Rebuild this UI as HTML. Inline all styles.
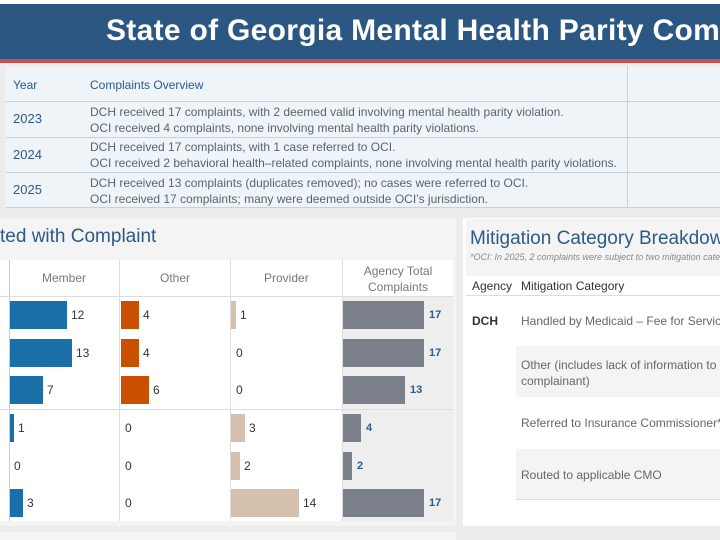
<!DOCTYPE html><html><head><style>
*{margin:0;padding:0;box-sizing:border-box}
html,body{width:720px;height:540px;overflow:hidden}
body{background:#ececec;font-family:"Liberation Sans",sans-serif}
#w{position:relative;width:720px;height:540px;overflow:hidden}
.a{position:absolute;white-space:nowrap}
.t{font-size:12px;color:#5a6470}
.bar{position:absolute;height:28px}
.lab{position:absolute;font-size:12px;color:#333}
.ag{position:absolute;font-size:11px;color:#2d5a87;font-weight:bold}
</style></head><body><div id="w">
<div class="a" style="left:0;top:0;width:720px;height:4px;background:#fff"></div>
<div class="a" style="left:0;top:4px;width:720px;height:55px;background:#2b5782"></div>
<div class="a" style="left:0;top:59px;width:720px;height:4px;background:#c8504f"></div>
<div class="a" style="left:106px;top:14px;font-size:30px;font-weight:bold;color:#fff;letter-spacing:0.3px">State of Georgia Mental Health Parity Compliance</div>
<div class="a" style="left:6px;top:66px;width:714px;height:142px;background:#eef4f8"></div>
<div class="a" style="left:627px;top:66px;width:1px;height:142px;background:#c8d0d8"></div>
<div class="a" style="left:6px;top:101px;width:714px;height:1px;background:#c8d0d8"></div>
<div class="a" style="left:6px;top:137px;width:714px;height:1px;background:#c8d0d8"></div>
<div class="a" style="left:6px;top:172px;width:714px;height:1px;background:#c8d0d8"></div>
<div class="a" style="left:6px;top:207px;width:714px;height:1px;background:#c8d0d8"></div>
<div class="a t" style="left:13px;top:78px;color:#2d5a87">Year</div>
<div class="a t" style="left:90px;top:78px;color:#2d5a87">Complaints Overview</div>
<div class="a t" style="left:13px;top:111px;color:#2d5a87;font-size:13px">2023</div>
<div class="a t" style="left:90px;top:104px;line-height:16px">DCH received 17 complaints, with 2 deemed valid involving mental health parity violation.<br>OCI received 4 complaints, none involving mental health parity violations.</div>
<div class="a t" style="left:13px;top:147px;color:#2d5a87;font-size:13px">2024</div>
<div class="a t" style="left:90px;top:139px;line-height:16px">DCH received 17 complaints, with 1 case referred to OCI.<br>OCI received 2 behavioral health–related complaints, none involving mental health parity violations.</div>
<div class="a t" style="left:13px;top:182px;color:#2d5a87;font-size:13px">2025</div>
<div class="a t" style="left:90px;top:175px;line-height:16px">DCH received 13 complaints (duplicates removed); no cases were referred to OCI.<br>OCI received 17 complaints; many were deemed outside OCI’s jurisdiction.</div>
<div class="a" style="left:0;top:218px;width:456px;height:308px;background:#f4f4f4"></div>
<div class="a" style="left:0;top:226px;font-size:19px;color:#2d5a87">ted with Complaint</div>
<div class="a" style="left:0;top:260px;width:453px;height:261px;background:#fff"></div>
<div class="a" style="left:343px;top:296px;width:110px;height:225px;background:#eeeeee"></div>
<div class="a" style="left:9px;top:260px;width:1px;height:261px;background:#ccc"></div>
<div class="a" style="left:119px;top:260px;width:1px;height:261px;background:#ddd"></div>
<div class="a" style="left:230px;top:260px;width:1px;height:261px;background:#ddd"></div>
<div class="a" style="left:342px;top:260px;width:1px;height:261px;background:#ddd"></div>
<div class="a" style="left:0;top:296px;width:453px;height:1px;background:#ddd"></div>
<div class="a" style="left:0;top:409px;width:453px;height:1px;background:#ddd"></div>
<div class="a" style="left:42px;top:271px;font-size:12px;color:#777">Member</div>
<div class="a" style="left:160px;top:271px;font-size:12px;color:#777">Other</div>
<div class="a" style="left:264px;top:271px;font-size:12px;color:#777">Provider</div>
<div class="a" style="left:343px;top:263px;width:110px;text-align:center;font-size:12px;color:#777;line-height:16px;white-space:normal">Agency Total<br>Complaints</div>
<div class="bar" style="left:10px;top:301px;width:57px;background:#1a6fa8"></div><div class="lab" style="left:71px;top:308px">12</div>
<div class="bar" style="left:10px;top:339px;width:62px;background:#1a6fa8"></div><div class="lab" style="left:76px;top:346px">13</div>
<div class="bar" style="left:10px;top:376px;width:33px;background:#1a6fa8"></div><div class="lab" style="left:47px;top:383px">7</div>
<div class="bar" style="left:10px;top:414px;width:4px;background:#1a6fa8"></div><div class="lab" style="left:18px;top:421px">1</div>
<div class="lab" style="left:14px;top:459px">0</div>
<div class="bar" style="left:10px;top:489px;width:13px;background:#1a6fa8"></div><div class="lab" style="left:27px;top:496px">3</div>
<div class="bar" style="left:121px;top:301px;width:18px;background:#c95000"></div><div class="lab" style="left:143px;top:308px">4</div>
<div class="bar" style="left:121px;top:339px;width:18px;background:#c95000"></div><div class="lab" style="left:143px;top:346px">4</div>
<div class="bar" style="left:121px;top:376px;width:28px;background:#c95000"></div><div class="lab" style="left:153px;top:383px">6</div>
<div class="lab" style="left:125px;top:421px">0</div><div class="lab" style="left:125px;top:459px">0</div><div class="lab" style="left:125px;top:496px">0</div>
<div class="bar" style="left:231px;top:301px;width:5px;background:#d4c0ad"></div><div class="lab" style="left:240px;top:308px">1</div>
<div class="lab" style="left:236px;top:346px">0</div><div class="lab" style="left:236px;top:383px">0</div>
<div class="bar" style="left:231px;top:414px;width:14px;background:#d4c0ad"></div><div class="lab" style="left:249px;top:421px">3</div>
<div class="bar" style="left:231px;top:452px;width:9px;background:#d4c0ad"></div><div class="lab" style="left:244px;top:459px">2</div>
<div class="bar" style="left:231px;top:489px;width:68px;background:#d4c0ad"></div><div class="lab" style="left:303px;top:496px">14</div>
<div class="bar" style="left:343px;top:301px;width:81px;background:#7b808a"></div><div class="ag" style="left:429px;top:309px">17</div>
<div class="bar" style="left:343px;top:339px;width:81px;background:#7b808a"></div><div class="ag" style="left:429px;top:347px">17</div>
<div class="bar" style="left:343px;top:376px;width:62px;background:#7b808a"></div><div class="ag" style="left:410px;top:384px">13</div>
<div class="bar" style="left:343px;top:414px;width:18px;background:#7b808a"></div><div class="ag" style="left:366px;top:422px">4</div>
<div class="bar" style="left:343px;top:452px;width:9px;background:#7b808a"></div><div class="ag" style="left:357px;top:460px">2</div>
<div class="bar" style="left:343px;top:489px;width:81px;background:#7b808a"></div><div class="ag" style="left:429px;top:497px">17</div>
<div class="a" style="left:463px;top:218px;width:257px;height:308px;background:#fff"></div>
<div class="a" style="left:466px;top:219px;width:254px;height:57px;background:#f4f4f4"></div>
<div class="a" style="left:470px;top:228px;font-size:19px;color:#2d5a87">Mitigation Category Breakdown</div>
<div class="a" style="left:470px;top:252px;font-size:9px;font-style:italic;color:#888">*OCI: In 2025, 2 complaints were subject to two mitigation categories</div>
<div class="a" style="left:472px;top:279px;font-size:12px;color:#333">Agency</div>
<div class="a" style="left:521px;top:279px;font-size:12px;color:#333">Mitigation Category</div>
<div class="a" style="left:466px;top:295px;width:254px;height:1px;background:#ddd"></div>
<div class="a" style="left:472px;top:314px;font-size:12px;font-weight:bold;color:#333">DCH</div>
<div class="a t" style="left:521px;top:314px;color:#666">Handled by Medicaid – Fee for Service</div>
<div class="a" style="left:516px;top:346px;width:204px;height:51px;background:#f4f4f4"></div>
<div class="a t" style="left:521px;top:357px;line-height:16px;color:#666">Other (includes lack of information to<br>complainant)</div>
<div class="a t" style="left:521px;top:416px;color:#666">Referred to Insurance Commissioner*</div>
<div class="a" style="left:516px;top:449px;width:204px;height:51px;background:#f4f4f4"></div>
<div class="a t" style="left:521px;top:468px;color:#666">Routed to applicable CMO</div>
<div class="a" style="left:516px;top:499px;width:204px;height:1px;background:#ddd"></div>
<div class="a" style="left:0;top:532px;width:456px;height:8px;background:#f4f4f4"></div>
</div></body></html>
